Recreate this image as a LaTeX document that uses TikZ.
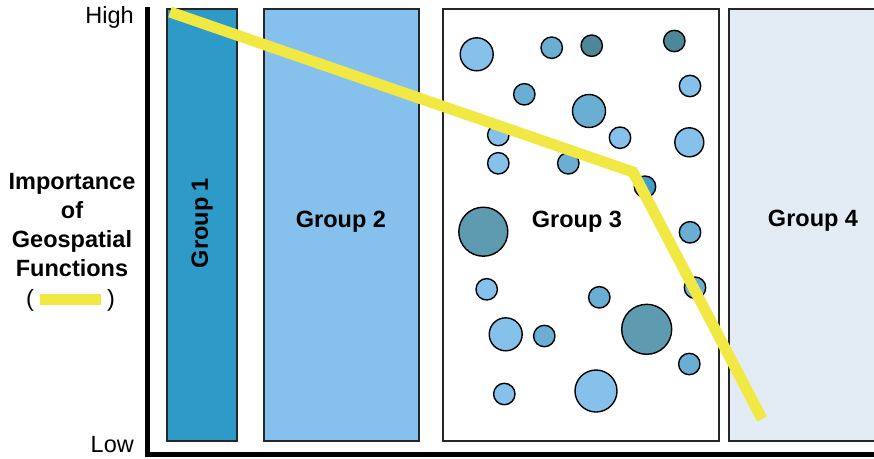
\documentclass[tikz,border=0pt]{standalone}
\usepackage{fontspec}
\setmainfont{Liberation Sans}
\definecolor{gone}{HTML}{2E9AC8}
\definecolor{gtwo}{HTML}{85C1EC}
\definecolor{gfour}{HTML}{E3EBF4}
\definecolor{clight}{HTML}{85C1EA}
\definecolor{cmed}{HTML}{6AAFD3}
\definecolor{cdark}{HTML}{4E8798}
\definecolor{cbig}{HTML}{5F9BB0}
\definecolor{cvivid}{HTML}{3E9ECC}
\definecolor{yel}{HTML}{F2E843}
\tikzset{
  grp/.style={draw=black!85, line width=1.2pt},
  dot/.style={draw=black, line width=1.4pt},
  lbl/.style={font=\fontsize{23.5}{29}\selectfont\bfseries, inner sep=0pt},
  axlbl/.style={font=\fontsize{23.5}{28}\selectfont, inner sep=0pt, anchor=east},
  impline/.style={draw=yel, line width=11pt},
  axis/.style={draw=black, line width=5pt}
}
\begin{document}
\begin{tikzpicture}[x=1pt,y=-1pt]
\useasboundingbox (0,0) rectangle (874,458);
\clip (0,0) rectangle (874,458);
\fill[white] (0,0) rectangle (874,458);
% group boxes
\path[grp, fill=gone] (167,9) rectangle (237,441);
\path[grp, fill=gtwo] (264,9) rectangle (419,441);
\path[grp, fill=white] (443,9) rectangle (719,441);
\path[grp, fill=gfour] (729,9) rectangle (884,441);
% circles
\foreach \x/\y/\r/\c in {
 476.7/54.3/16.5/clight, 551.7/47.7/10.7/cmed, 591.7/45.7/10.7/cdark, 674.3/41/10.7/cdark,
 690/86/10.7/clight, 524.3/94.3/10.7/cmed, 589/111/16.5/cmed, 620/137.7/10.7/clight,
 689.3/142.3/14.5/clight, 498.3/135/10.7/clight, 498.3/163.3/10.7/clight, 568.3/163.3/10.7/cmed,
 645/186.7/10.7/cvivid, 483.3/231.7/24.5/cbig, 690/232.3/10.7/cmed, 486.7/289.3/10.7/clight,
 599.3/297.3/10.7/cmed, 695/287.7/10.7/cmed, 505.7/334.3/16.5/clight, 544.3/336/10.7/cmed,
 646.7/329.3/25/cbig, 689.3/364/10.7/cmed, 504.3/394/10.7/clight, 596/391/21/clight}
 {\path[dot, fill=\c] (\x,\y) circle[radius=\r];}
% group labels
\node[lbl, rotate=90] (g1) at (202,223) {Group 1};
\node[lbl] (g2) at (341,222) {Group 2};
\node[lbl] (g3) at (577,222) {Group 3};
\node[lbl] (g4) at (813,221) {Group 4};
% importance line
\coordinate (p1) at (170,12);
\coordinate (p2) at (633,172);
\coordinate (p3) at (762,419);
\draw[impline] (p1) -- (p2) -- (p3);
% axes
\coordinate (axtop) at (147.5,7);
\coordinate (axright) at (880,454);
\draw[axis] (axtop) -- (147.5,456.5);
\draw[axis] (145,454) -- (axright);
% axis labels
\node[axlbl] (high) at (134,17) {High};
\node[axlbl] (low) at (134,445) {Low};
\node[lbl, align=center, anchor=north] (imp) at (72,173) {Importance\\of\\Geospatial\\Functions};
\node[axlbl, anchor=center] (lp) at (30,300) {(};
\node[axlbl, anchor=center] (rp) at (111,300) {)};
\path[fill=yel] (40,293.5) rectangle (101,305);
\end{tikzpicture}
\end{document}
